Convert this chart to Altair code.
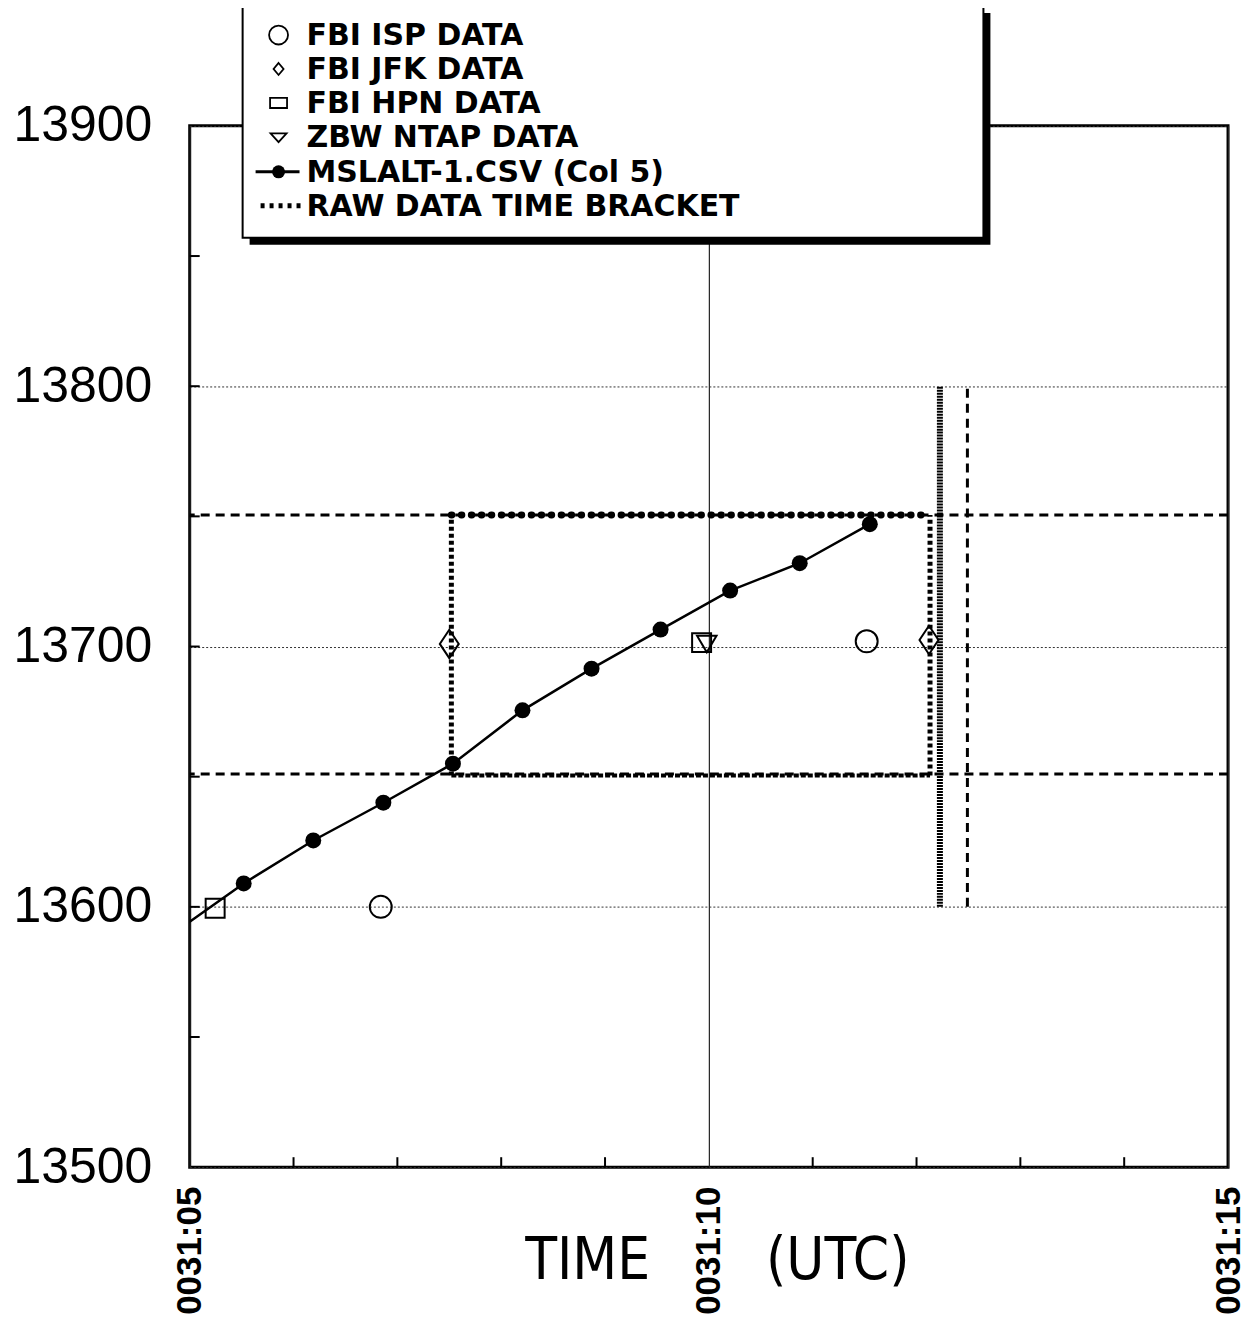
import altair as alt
import pandas as pd

# ---------------- data (time = seconds after 0031:00 UTC, altitude in ft) ----------------
msl_time = [4.85, 5.52, 6.19, 6.865, 7.535, 8.205, 8.87, 9.535, 10.205, 10.875, 11.55]
msl_alt = [13590, 13609, 13625.5, 13640, 13655, 13675.5, 13691.5, 13706.5, 13721.5, 13732, 13747]

isp_time = [6.84, 11.52]
isp_alt = [13600, 13702]
jfk_time = [7.5, 12.12]
jfk_alt = [13701, 13702.5]
hpn_time = [5.245, 9.93]
hpn_alt = [13599.5, 13701.5]
ntap_time = [9.98]
ntap_alt = [13701]

# raw data time bracket
bracket_t = [7.52, 12.13]
bracket_alt = [13650.5, 13750.5]
outer_t = [12.225, 12.49]
outer_alt = [13600, 13800]
limit_alt = [13651, 13750.5]

x_tick_labels = [5, 10, 15]
x_minor = [6, 7, 8, 9, 11, 12, 13, 14]
y_tick_labels = [13500, 13600, 13700, 13800, 13900]
y_minor = [13550, 13600, 13650, 13700, 13750, 13800, 13850]

leg_labels = ["FBI ISP DATA", "FBI JFK DATA", "FBI HPN DATA", "ZBW NTAP DATA",
              "MSLALT-1.CSV (Col 5)", "RAW DATA TIME BRACKET"]
x_title = "TIME" + "\u00a0" * 7 + "(UTC)"

# ---------------- helpers ----------------
W, H = 1040, 1043
xs = alt.Scale(domain=[5, 15], nice=False, zero=False)
ys = alt.Scale(domain=[13500, 13900], nice=False, zero=False)

DIAMOND = "M0,-1.5L1,0L0,1.5L-1,0Z"
SQUARE = "M-1,-1H1V1H-1Z"
TRI_DOWN = "M-1,-0.85H1L0,0.85Z"

x_axis = alt.Axis(
    values=x_tick_labels,
    labelExpr="'0031:' + (datum.value < 10 ? '0' : '') + datum.value",
    labelAngle=270, labelFont="Liberation Sans", labelFontSize=35,
    labelFontWeight="bold", labelColor="black", labelPadding=19,
    labelFlush=False, labelOverlap=False, ticks=False, domain=False,
    grid=True, gridColor="#222222", gridWidth=1.2,
    title=x_title, titleFont="'DejaVu Sans Condensed', 'Liberation Sans', sans-serif",
    titleFontSize=58, titleFontWeight="normal", titleColor="black",
    titleX=528, titleY=94, titleBaseline="middle", titleAlign="center",
)
y_axis = alt.Axis(
    values=y_tick_labels, format="d",
    labelFont="Liberation Sans", labelFontSize=50, labelColor="black",
    labelPadding=38, labelFlush=False, labelOverlap=False,
    ticks=False, domain=False, grid=True, gridDash=[2, 2],
    gridColor="#333333", gridWidth=1, title=None,
)


def X(f):
    return alt.X(f, type="quantitative", scale=xs, axis=x_axis)


def Y(f):
    return alt.Y(f, type="quantitative", scale=ys, axis=y_axis)


df_msl = pd.DataFrame({"t": msl_time, "a": msl_alt})

layers = []

# dashed full-width limits
layers.append(
    alt.Chart(pd.DataFrame({"a": limit_alt})).mark_rule(
        color="black", strokeWidth=3, strokeDash=[9, 6]
    ).encode(y=Y("a"))
)
# dashed outer vertical
layers.append(
    alt.Chart(pd.DataFrame({"t": [outer_t[1]], "a1": [outer_alt[0]], "a2": [outer_alt[1]]}))
    .mark_rule(color="black", strokeWidth=3, strokeDash=[9, 6])
    .encode(x=X("t"), y=Y("a1"), y2="a2")
)
# thick dense vertical
layers.append(
    alt.Chart(pd.DataFrame({"t": [outer_t[0]], "a1": [outer_alt[0]], "a2": [outer_alt[1]]}))
    .mark_rule(color="black", strokeWidth=6, strokeDash=[2, 1])
    .encode(x=X("t"), y=Y("a1"), y2="a2")
)
# bracket verticals
layers.append(
    alt.Chart(pd.DataFrame({"t": bracket_t, "a1": [bracket_alt[0]] * 2, "a2": [bracket_alt[1]] * 2}))
    .mark_rule(color="black", strokeWidth=5, strokeDash=[4, 3])
    .encode(x=X("t"), y=Y("a1"), y2="a2")
)
# bracket top (round dots)
layers.append(
    alt.Chart(pd.DataFrame({"t1": [bracket_t[0]], "t2": [bracket_t[1]], "a": [bracket_alt[1]]}))
    .mark_rule(color="black", strokeWidth=7, strokeDash=[0.5, 9.5], strokeCap="round")
    .encode(x=X("t1"), x2="t2", y=Y("a"))
)
# bracket bottom
layers.append(
    alt.Chart(pd.DataFrame({"t1": [bracket_t[0]], "t2": [bracket_t[1]], "a": [bracket_alt[0]]}))
    .mark_rule(color="black", strokeWidth=4, strokeDash=[5, 2])
    .encode(x=X("t1"), x2="t2", y=Y("a"))
)

# inward minor ticks
layers.append(
    alt.Chart(pd.DataFrame({"t": x_minor})).mark_tick(
        orient="vertical", size=10, thickness=2, yOffset=-5, color="black", opacity=1
    ).encode(x=X("t"), y=alt.datum(13500))
)
layers.append(
    alt.Chart(pd.DataFrame({"a": y_minor})).mark_tick(
        orient="horizontal", size=10, thickness=2, xOffset=5, color="black", opacity=1
    ).encode(y=Y("a"), x=alt.datum(5))
)

# MSLALT line and points
layers.append(
    alt.Chart(df_msl).mark_line(color="black", strokeWidth=2.5, clip=True)
    .encode(x=X("t"), y=Y("a"))
)
layers.append(
    alt.Chart(df_msl).mark_point(shape="circle", filled=True, size=256, color="black",
                                 opacity=1, clip=True)
    .encode(x=X("t"), y=Y("a"))
)


def markers(tt, aa, shape, size):
    return alt.Chart(pd.DataFrame({"t": tt, "a": aa})).mark_point(
        shape=shape, filled=False, size=size, stroke="black", strokeWidth=2, opacity=1
    ).encode(x=X("t"), y=Y("a"))


layers.append(markers(isp_time, isp_alt, "circle", 484))
layers.append(markers(jfk_time, jfk_alt, DIAMOND, 361))
layers.append(markers(hpn_time, hpn_alt, SQUARE, 361))
layers.append(markers(ntap_time, ntap_alt, TRI_DOWN, 380))

# ---------------- legend box ----------------
one = pd.DataFrame({"k": [0]})
LX0, LX1, LY0, LY1 = 53, 795, -120, 112
layers.append(
    alt.Chart(one).mark_rect(color="black").encode(
        x=alt.value(LX0 + 7), x2=alt.value(LX1 + 7), y=alt.value(LY0 + 7), y2=alt.value(LY1 + 7)
    )
)
layers.append(
    alt.Chart(one).mark_rect(fill="white", stroke="black", strokeWidth=2).encode(
        x=alt.value(LX0), x2=alt.value(LX1), y=alt.value(LY0), y2=alt.value(LY1)
    )
)

row_y = [-91, -57, -23, 11.5, 46, 80]
SYM_X = 89
TXT_X = 117
leg_sym = [("circle", 361), ("M0,-1.2L1,0L0,1.2L-1,0Z", 100),
           ("M-1,-0.6H1V0.6H-1Z", 289), ("M-1,-0.5H1L0,0.6Z", 256)]
for i, (shp, sz) in enumerate(leg_sym):
    layers.append(
        alt.Chart(one).mark_point(shape=shp, size=sz, filled=False, stroke="black",
                                  strokeWidth=1.8, opacity=1)
        .encode(x=alt.value(SYM_X), y=alt.value(row_y[i]))
    )
layers.append(
    alt.Chart(one).mark_rule(color="black", strokeWidth=3).encode(
        x=alt.value(66), x2=alt.value(110), y=alt.value(row_y[4])
    )
)
layers.append(
    alt.Chart(one).mark_point(shape="circle", size=169, filled=True, color="black", opacity=1)
    .encode(x=alt.value(SYM_X), y=alt.value(row_y[4]))
)
layers.append(
    alt.Chart(one).mark_rule(color="black", strokeWidth=5, strokeDash=[4, 5]).encode(
        x=alt.value(71), x2=alt.value(115), y=alt.value(row_y[5])
    )
)
for i, lab in enumerate(leg_labels):
    layers.append(
        alt.Chart(pd.DataFrame({"label": [lab]})).mark_text(
            align="left", baseline="middle", font="DejaVu Sans", fontWeight="bold",
            fontSize=30, color="black"
        ).encode(x=alt.value(TXT_X), y=alt.value(row_y[i] + 1), text="label:N")
    )

chart = alt.layer(*layers).properties(
    width=W, height=H,
    autosize=alt.AutoSizeParams(type="none"),
    padding={"left": 182, "top": 117, "right": 16, "bottom": 150},
    background="white",
).configure_view(stroke="black", strokeWidth=3)

chart.save("out.html", embed_options={"renderer": "svg", "actions": False})
